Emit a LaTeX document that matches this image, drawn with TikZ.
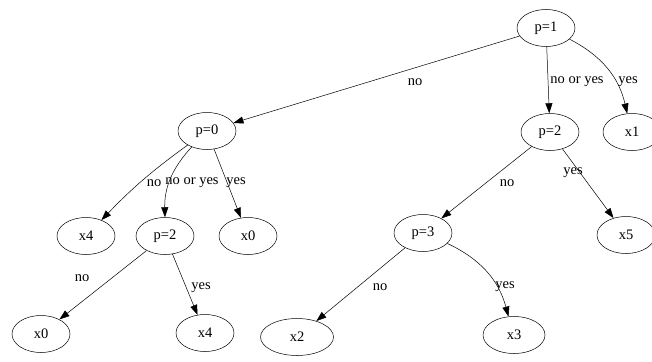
\documentclass[tikz,border=0pt]{standalone}
\usepackage{fontspec}
\setmainfont{Liberation Serif}
\usetikzlibrary{shapes.geometric,arrows.meta}

\tikzset{
	test/.style={ellipse, draw, line width=0.5pt, minimum width=58pt, minimum height=37pt, inner sep=0pt, font=\fontsize{14.5}{16}\selectfont},
	leaf/.style={test},
	lbl/.style={inner sep=0pt, font=\fontsize{14.5}{16}\selectfont},
	edge/.style={line width=0.5pt, -{Triangle[length=10pt,width=7pt]}}
}

\begin{document}
\begin{tikzpicture}[x=1pt,y=-1pt]
			            \useasboundingbox[fill=white] (0,0) rectangle (652,361);

			            % tests
			            \node[test] (p1) at (546,28){p=1};
			            \node[test] (p0) at (207,131){p=0};
			            \node[test] (p2r) at (550,132){p=2};
			            \node[test] (p2l) at (165,236){p=2};
			            \node[test] (p3) at (423,233){p=3};

			            % leaves
			            \node[leaf] (x1) at (632,132){x1};
			            \node[leaf] (x4a) at (86,236){x4};
			            \node[leaf] (x0a) at (248,236){x0};
			            \node[leaf] (x5) at (626,235){x5};
			            \node[leaf] (x0b) at (41,334){x0};
			            \node[leaf] (x4b) at (205,333){x4};
			            \node[leaf, minimum width=73pt] (x2) at (297,337){x2};
			            \node[leaf, minimum width=62pt] (x3) at (514,335){x3};

			            \draw[edge] (p1) -- (p0);
			            \draw[edge] (p1) -- (p2r);
			            \draw[edge] (p1) to[bend left=25] (x1);
			            \draw[edge] (p2r) -- (p3);
			            \draw[edge] (p2r) -- (x5);
			            \draw[edge] (p0) to[bend right=5] (x4a);
			            \draw[edge] (p0) to[bend right=22] (p2l);
			            \draw[edge] (p0) -- (x0a);
			            \draw[edge] (p2l) -- (x0b);
			            \draw[edge] (p2l) -- (x4b);
			            \draw[edge] (p3) -- (x2);
			            \draw[edge] (p3) to[bend left=25] (x3);

			            % labels
			            \node[lbl] (l1) at (415,82){no};
			            \node[lbl] (l2) at (577,82){no or yes};
			            \node[lbl] (l3) at (628,82){yes};
			            \node[lbl] (l4) at (507,183){no};
			            \node[lbl] (l5) at (573,173){yes};
			            \node[lbl] (l6) at (154,183){no};
			            \node[lbl] (l7) at (192,183){no or yes};
			            \node[lbl] (l8) at (236,183){yes};
			            \node[lbl] (l9) at (82,278){no};
			            \node[lbl] (l10) at (201,288){yes};
			            \node[lbl] (l11) at (380,287){no};
			            \node[lbl] (l12) at (505,287){yes};
		            \end{tikzpicture}
\end{document}
